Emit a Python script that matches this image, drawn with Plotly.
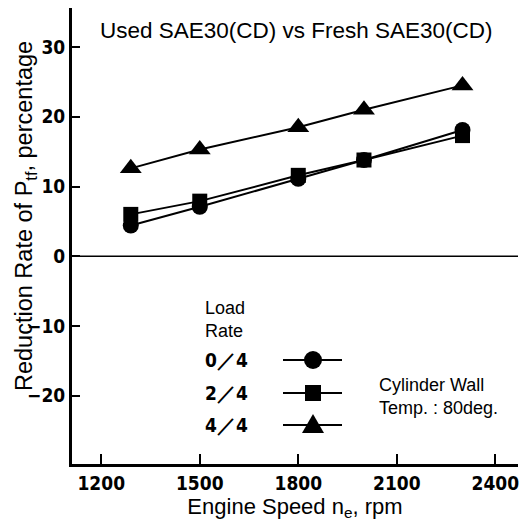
import plotly.graph_objects as go

speed = [1290, 1500, 1800, 2000, 2300]
load_labels = ["0／4", "2／4", "4／4"]
red_0_4 = [4.4, 7.1, 11.1, 13.8, 18.1]
red_2_4 = [6.0, 7.9, 11.6, 13.8, 17.3]
red_4_4 = [12.6, 15.3, 18.5, 21.0, 24.5]
x_ticks = [1200, 1500, 1800, 2100, 2400]
y_ticks = [-20, -10, 0, 10, 20, 30]
y_tick_text = ["−20", "−10", "0", "10", "20", "30"]

series = [(red_0_4, "circle", 16), (red_2_4, "square", 15), (red_4_4, "triangle-up", 19)]

# page body has an 8px margin; work in page pixels and convert
OFF = 8
W, H = 531 - OFF, 527 - OFF
PL, PR, PT, PB = 72, 518, 8, 464          # plot area in page pixels
L, R, T, B = PL - OFF, W - (PR - OFF), PT - OFF, H - (PB - OFF)
PW, PH = PR - PL, PB - PT

def px(x):
    return (x - PL) / PW

def py(y):
    return (PB - y) / PH

fig = go.Figure()
for vals, sym, sz in series:
    fig.add_trace(go.Scatter(
        x=speed, y=vals, mode="lines+markers",
        line=dict(color="black", width=2),
        marker=dict(symbol=sym, size=sz, color="black"),
        showlegend=False, cliponaxis=False))

narrow = "DejaVu Sans Condensed, Liberation Sans Narrow, Liberation Sans, sans-serif"
sans = "Liberation Sans, Arial, sans-serif"

shapes = []
shapes.append(dict(type="line", xref="paper", yref="y", x0=0, x1=1, y0=0, y1=0,
                   line=dict(color="black", width=1.5)))

annotations = []
annotations.append(dict(text="Used SAE30(CD) vs Fresh SAE30(CD)", xref="paper", yref="paper",
                        x=px(296), y=py(31), xanchor="center", yanchor="middle", showarrow=False,
                        font=dict(family=sans, size=22.5, color="black")))
annotations.append(dict(text="Reduction Rate of P<sub>tf</sub>, percentage", xref="paper", yref="paper",
                        x=px(25), y=py(216), xanchor="center", yanchor="middle", textangle=-90, showarrow=False,
                        font=dict(family=sans, size=23.5, color="black")))
annotations.append(dict(text="Load<br>Rate", xref="paper", yref="paper", align="left",
                        x=px(203), y=py(319), xanchor="left", yanchor="middle", showarrow=False,
                        font=dict(family=sans, size=18, color="black")))
annotations.append(dict(text="Cylinder Wall<br>Temp. : 80deg.", xref="paper", yref="paper", align="left",
                        x=px(377), y=py(396), xanchor="left", yanchor="middle", showarrow=False,
                        font=dict(family=sans, size=18, color="black")))

rows = [360, 393, 425]
for lab, ry, (vals, sym, sz) in zip(load_labels, rows, series):
    annotations.append(dict(text=lab, xref="paper", yref="paper", x=px(203), y=py(ry),
                            xanchor="left", yanchor="middle", showarrow=False,
                            font=dict(family=narrow, size=19, color="black", weight="bold")))
    shapes.append(dict(type="line", xref="paper", yref="paper", x0=px(283), x1=px(342),
                       y0=py(ry), y1=py(ry), line=dict(color="black", width=2)))
    cx, cy = px(313), py(ry)
    if sym == "circle":
        shapes.append(dict(type="circle", xref="paper", yref="paper", xsizemode="pixel", ysizemode="pixel",
                           xanchor=cx, yanchor=cy, x0=-9, x1=9, y0=-9, y1=9,
                           fillcolor="black", line=dict(width=0)))
    elif sym == "square":
        shapes.append(dict(type="rect", xref="paper", yref="paper", xsizemode="pixel", ysizemode="pixel",
                           xanchor=cx, yanchor=cy, x0=-8, x1=8, y0=-8, y1=8,
                           fillcolor="black", line=dict(width=0)))
    else:
        shapes.append(dict(type="path", xref="paper", yref="paper", xsizemode="pixel", ysizemode="pixel",
                           xanchor=cx, yanchor=cy, path="M -11 -8 L 11 -8 L 0 11 Z",
                           fillcolor="black", line=dict(width=0)))

fig.update_layout(
    width=W, height=H, margin=dict(l=L, r=R, t=T, b=B, autoexpand=False),
    paper_bgcolor="white", plot_bgcolor="white",
    shapes=shapes, annotations=annotations,
    xaxis=dict(range=[1111, 2469], tickvals=x_ticks, ticktext=[str(v) for v in x_ticks],
               ticks="inside", ticklen=10, tickwidth=2, tickcolor="black",
               showline=True, linecolor="black", linewidth=3, showgrid=False, zeroline=False,
               automargin=False,
               tickfont=dict(family=narrow, size=19, color="black", weight="bold"),
               title=dict(text="Engine Speed n<sub>e</sub>, rpm", standoff=4,
                          font=dict(family=sans, size=22, color="black"))),
    yaxis=dict(range=[-29.8, 35.6], tickvals=y_ticks, ticktext=y_tick_text,
               ticks="inside", ticklen=8, tickwidth=2, tickcolor="black",
               showline=True, linecolor="black", linewidth=3, showgrid=False, zeroline=False,
               automargin=False,
               tickfont=dict(family=narrow, size=19, color="black", weight="bold")),
)

fig.write_html("out.html")
